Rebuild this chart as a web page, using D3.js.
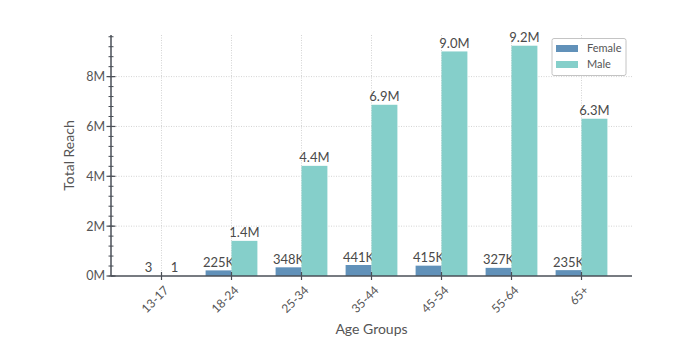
<!DOCTYPE html>
<html><head><meta charset="utf-8">
<script src="https://cdn.jsdelivr.net/npm/d3@7"></script>
<style>
html,body{margin:0;padding:0;background:#fff;}
svg text{font-family:Lato,"Open Sans",sans-serif;}
</style></head>
<body><svg id="c" width="699" height="355"></svg>
<script>
const categories = ["13-17","18-24","25-34","35-44","45-54","55-64","65+"];
const seriesNames = ["Female","Male"];
const female = [3, 225000, 348000, 441000, 415000, 327000, 235000];
const male = [1, 1410000, 4420000, 6870000, 9010000, 9240000, 6310000];
const yTickValues = [0, 2000000, 4000000, 6000000, 8000000];
const yTickLabels = ["0M","2M","4M","6M","8M"];
const colors = ["#6191b9","#85cfca"];

const svg = d3.select("#c");
const L = 111, R = 632, T = 35, B = 276;
const x = d3.scaleBand().domain(categories).range([L, R]).paddingInner(0).paddingOuter(0.2214);
const step = x.step();
const barW = 0.37 * step;
const xs = d3.scaleBand().domain(seriesNames).range([step/2 - barW, step/2 + barW]).padding(0);
const y = d3.scaleLinear().domain([0, 9670000]).range([B, T]);

const gridC = "#c8c8c8";
const g = svg.append("g");
yTickValues.slice(1).forEach(v => {
  g.append("line").attr("x1", L).attr("x2", R).attr("y1", y(v)).attr("y2", y(v))
    .attr("stroke", gridC).attr("stroke-width", 0.8).attr("stroke-dasharray", "1,1.5");
});
categories.forEach(c => {
  const cx = x(c) + step/2;
  g.append("line").attr("x1", cx).attr("x2", cx).attr("y1", T).attr("y2", B)
    .attr("stroke", gridC).attr("stroke-width", 0.8).attr("stroke-dasharray", "1,1.5");
});

const data = categories.map((c,i) => ({c, vals:[female[i], male[i]]}));
const fmt = v => v < 1000 ? String(v) : v < 1e6 ? Math.round(v/1000) + "K" : (v/1e6).toFixed(1) + "M";
const bg = svg.append("g");
data.forEach(d => {
  d.vals.forEach((v, j) => {
    const s = seriesNames[j];
    const bx = x(d.c) + xs(s);
    bg.append("rect").attr("x", bx).attr("y", y(v)).attr("width", xs.bandwidth())
      .attr("height", B - y(v)).attr("fill", colors[j]);
    bg.append("text").attr("x", bx + xs.bandwidth()/2).attr("y", y(v) - 3.5)
      .attr("text-anchor", "middle").attr("font-size", 13).attr("fill", "#4a4a4a").text(fmt(v));
  });
});

const axC = "#4a4f57";
const ax = svg.append("g");
ax.append("line").attr("x1", L).attr("x2", L).attr("y1", T).attr("y2", B).attr("stroke", axC).attr("stroke-width", 1.5);
ax.append("line").attr("x1", L).attr("x2", R).attr("y1", B).attr("y2", B).attr("stroke", axC).attr("stroke-width", 1.5);
const minor = d3.range(0, 9670001, 400000);
minor.forEach(v => {
  ax.append("line").attr("x1", L-2.5).attr("x2", L+2.5).attr("y1", y(v)).attr("y2", y(v)).attr("stroke", axC).attr("stroke-width", 1);
});
yTickValues.forEach((v,i) => {
  ax.append("line").attr("x1", L-4.5).attr("x2", L+4.5).attr("y1", y(v)).attr("y2", y(v)).attr("stroke", axC).attr("stroke-width", 1.2);
  ax.append("text").attr("x", L-6).attr("y", y(v)).attr("dy", "0.35em").attr("text-anchor", "end")
    .attr("font-size", 12.5).attr("fill", "#555").text(yTickLabels[i]);
});
categories.forEach(c => {
  const cx = x(c) + step/2;
  ax.append("line").attr("x1", cx).attr("x2", cx).attr("y1", B-4).attr("y2", B+4).attr("stroke", axC).attr("stroke-width", 1.2);
  ax.append("text").attr("text-anchor", "end").attr("font-size", 12).attr("fill", "#555")
    .attr("transform", `translate(${cx+5},${B+12}) rotate(-45)`).attr("dy", "0.35em").text(c);
});
svg.append("text").attr("transform", `translate(74,${(T+B)/2}) rotate(-90)`).attr("text-anchor", "middle")
  .attr("font-size", 14).attr("fill", "#555").text("Total Reach");
svg.append("text").attr("x", (L+R)/2).attr("y", 334).attr("text-anchor", "middle")
  .attr("font-size", 14).attr("fill", "#555").text("Age Groups");

const lg = svg.append("g");
lg.append("rect").attr("x", 552).attr("y", 38.5).attr("width", 74).attr("height", 37).attr("rx", 2)
  .attr("fill", "#fff").attr("stroke", "#c4c4c4").attr("stroke-width", 1);
seriesNames.forEach((s,i) => {
  lg.append("rect").attr("x", 556).attr("y", 45 + i*16).attr("width", 22).attr("height", 7).attr("fill", colors[i]);
  lg.append("text").attr("x", 587).attr("y", 48.5 + i*16).attr("dy", "0.35em").attr("font-size", 11)
    .attr("fill", "#555").text(s);
});
</script></body></html>
